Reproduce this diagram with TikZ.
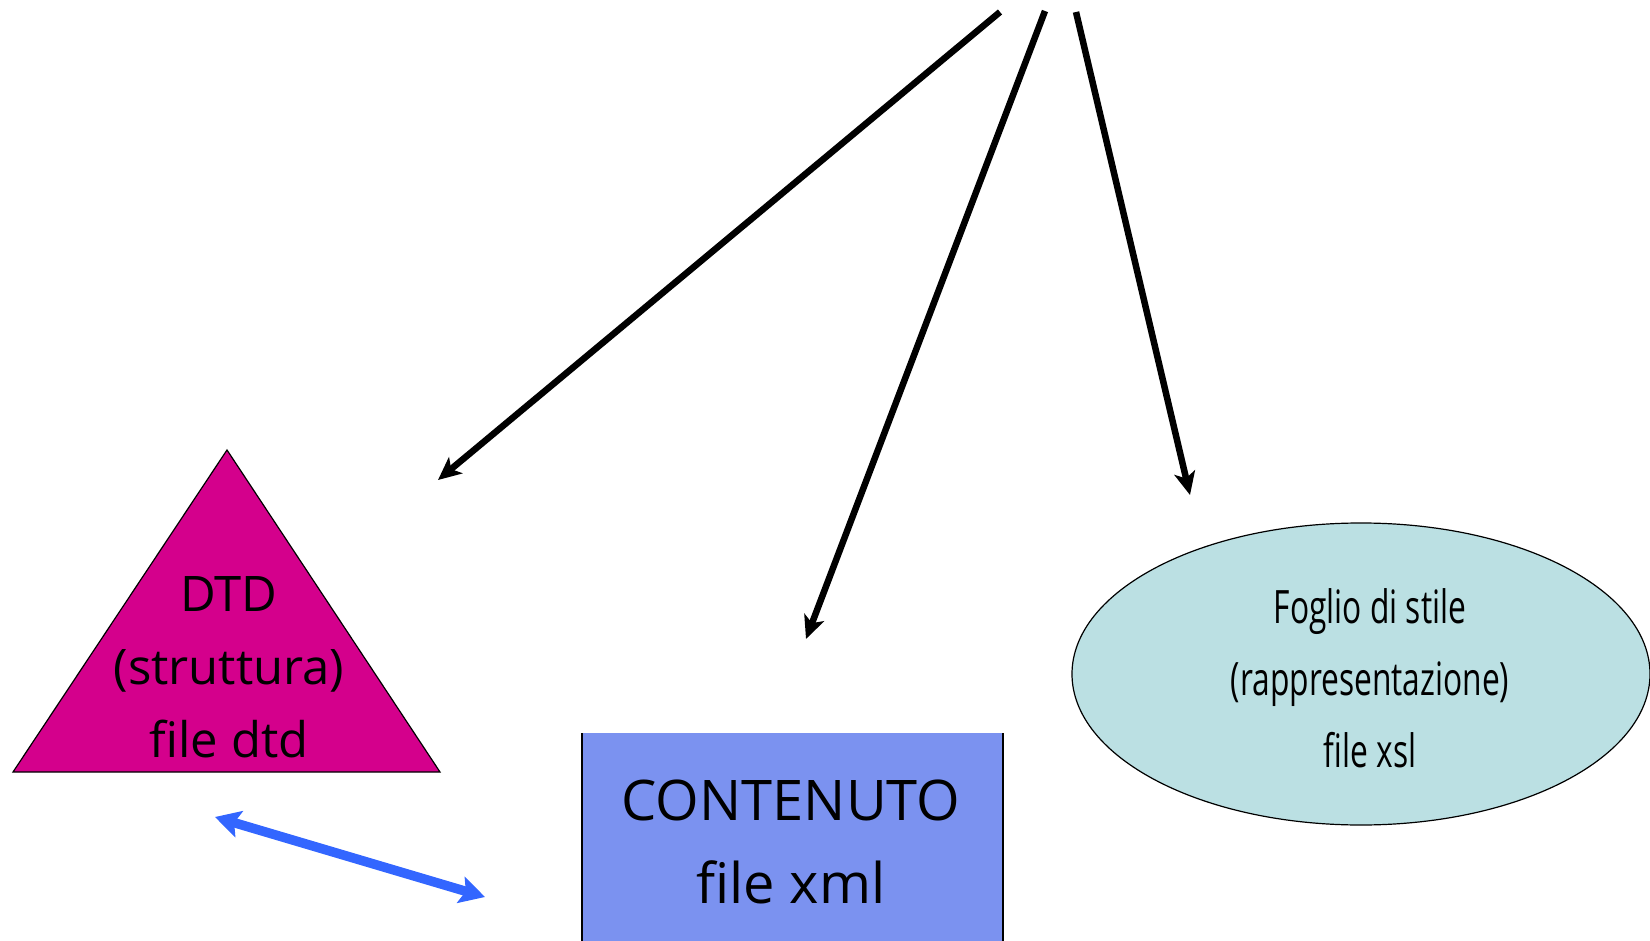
\documentclass[tikz,border=0pt]{standalone}
\usepackage{fontspec}
\setmainfont{Open Sans}
\newfontfamily\condfont[FakeStretch=0.69]{Open Sans}
\usetikzlibrary{arrows.meta,shapes.geometric}
\definecolor{dtdfill}{RGB}{212,0,140}
\definecolor{xmlfill}{RGB}{123,146,240}
\definecolor{xslfill}{RGB}{187,224,227}
\definecolor{linkblue}{RGB}{51,102,255}
\tikzset{
  link/.style={line width=6.5pt,-{Stealth[length=23pt,width=21pt,inset=6pt]}},
  bilink/.style={line width=9.5pt,linkblue,{Stealth[length=25pt,width=27pt,inset=5pt]}-{Stealth[length=25pt,width=27pt,inset=5pt]}},
  label/.style={align=center,inner sep=0pt},
}
\begin{document}
\begin{tikzpicture}[x=1pt,y=-1pt]
\useasboundingbox (0,0) rectangle (1650,941);
% triangle (DTD)
\draw[fill=dtdfill,line width=1.2pt,line join=miter] (13,772) -- (227,450) -- (440,772) -- cycle;
\node[label,font=\fontsize{49}{73}\selectfont] (dtd) at (229,667) {DTD\\(struttura)\\file dtd};
% rectangle (XML)
\fill[xmlfill] (582,733) rectangle (1003,941);
\draw[line width=2pt] (582,941) -- (582,733);
\draw[line width=2pt] (1003,733) -- (1003,941);
\node[label,font=\fontsize{56}{83}\selectfont] (xml) at (791,842) {CONTENUTO\\file xml};
% ellipse (XSL)
\node[ellipse,draw,line width=1.2pt,fill=xslfill,minimum width=578pt,minimum height=302pt,inner sep=0pt] (xsl) at (1361,674) {};
\node[label,font=\condfont\fontsize{46}{72}\selectfont] (xsltext) at (1370,678) {Foglio di stile\\(rappresentazione)\\file xsl};
% arrows
\coordinate (s1) at (1000,12);
\coordinate (t1) at (438,480);
\coordinate (s2) at (1045,11);
\coordinate (t2) at (806,639);
\coordinate (s3) at (1076,12);
\coordinate (t3) at (1190,495);
\draw[link] (s1) -- (t1);
\draw[link] (s2) -- (t2);
\draw[link] (s3) -- (t3);
\coordinate (b1) at (215,817);
\coordinate (b2) at (485,897);
\draw[bilink] (b1) -- (b2);
\end{tikzpicture}
\end{document}
